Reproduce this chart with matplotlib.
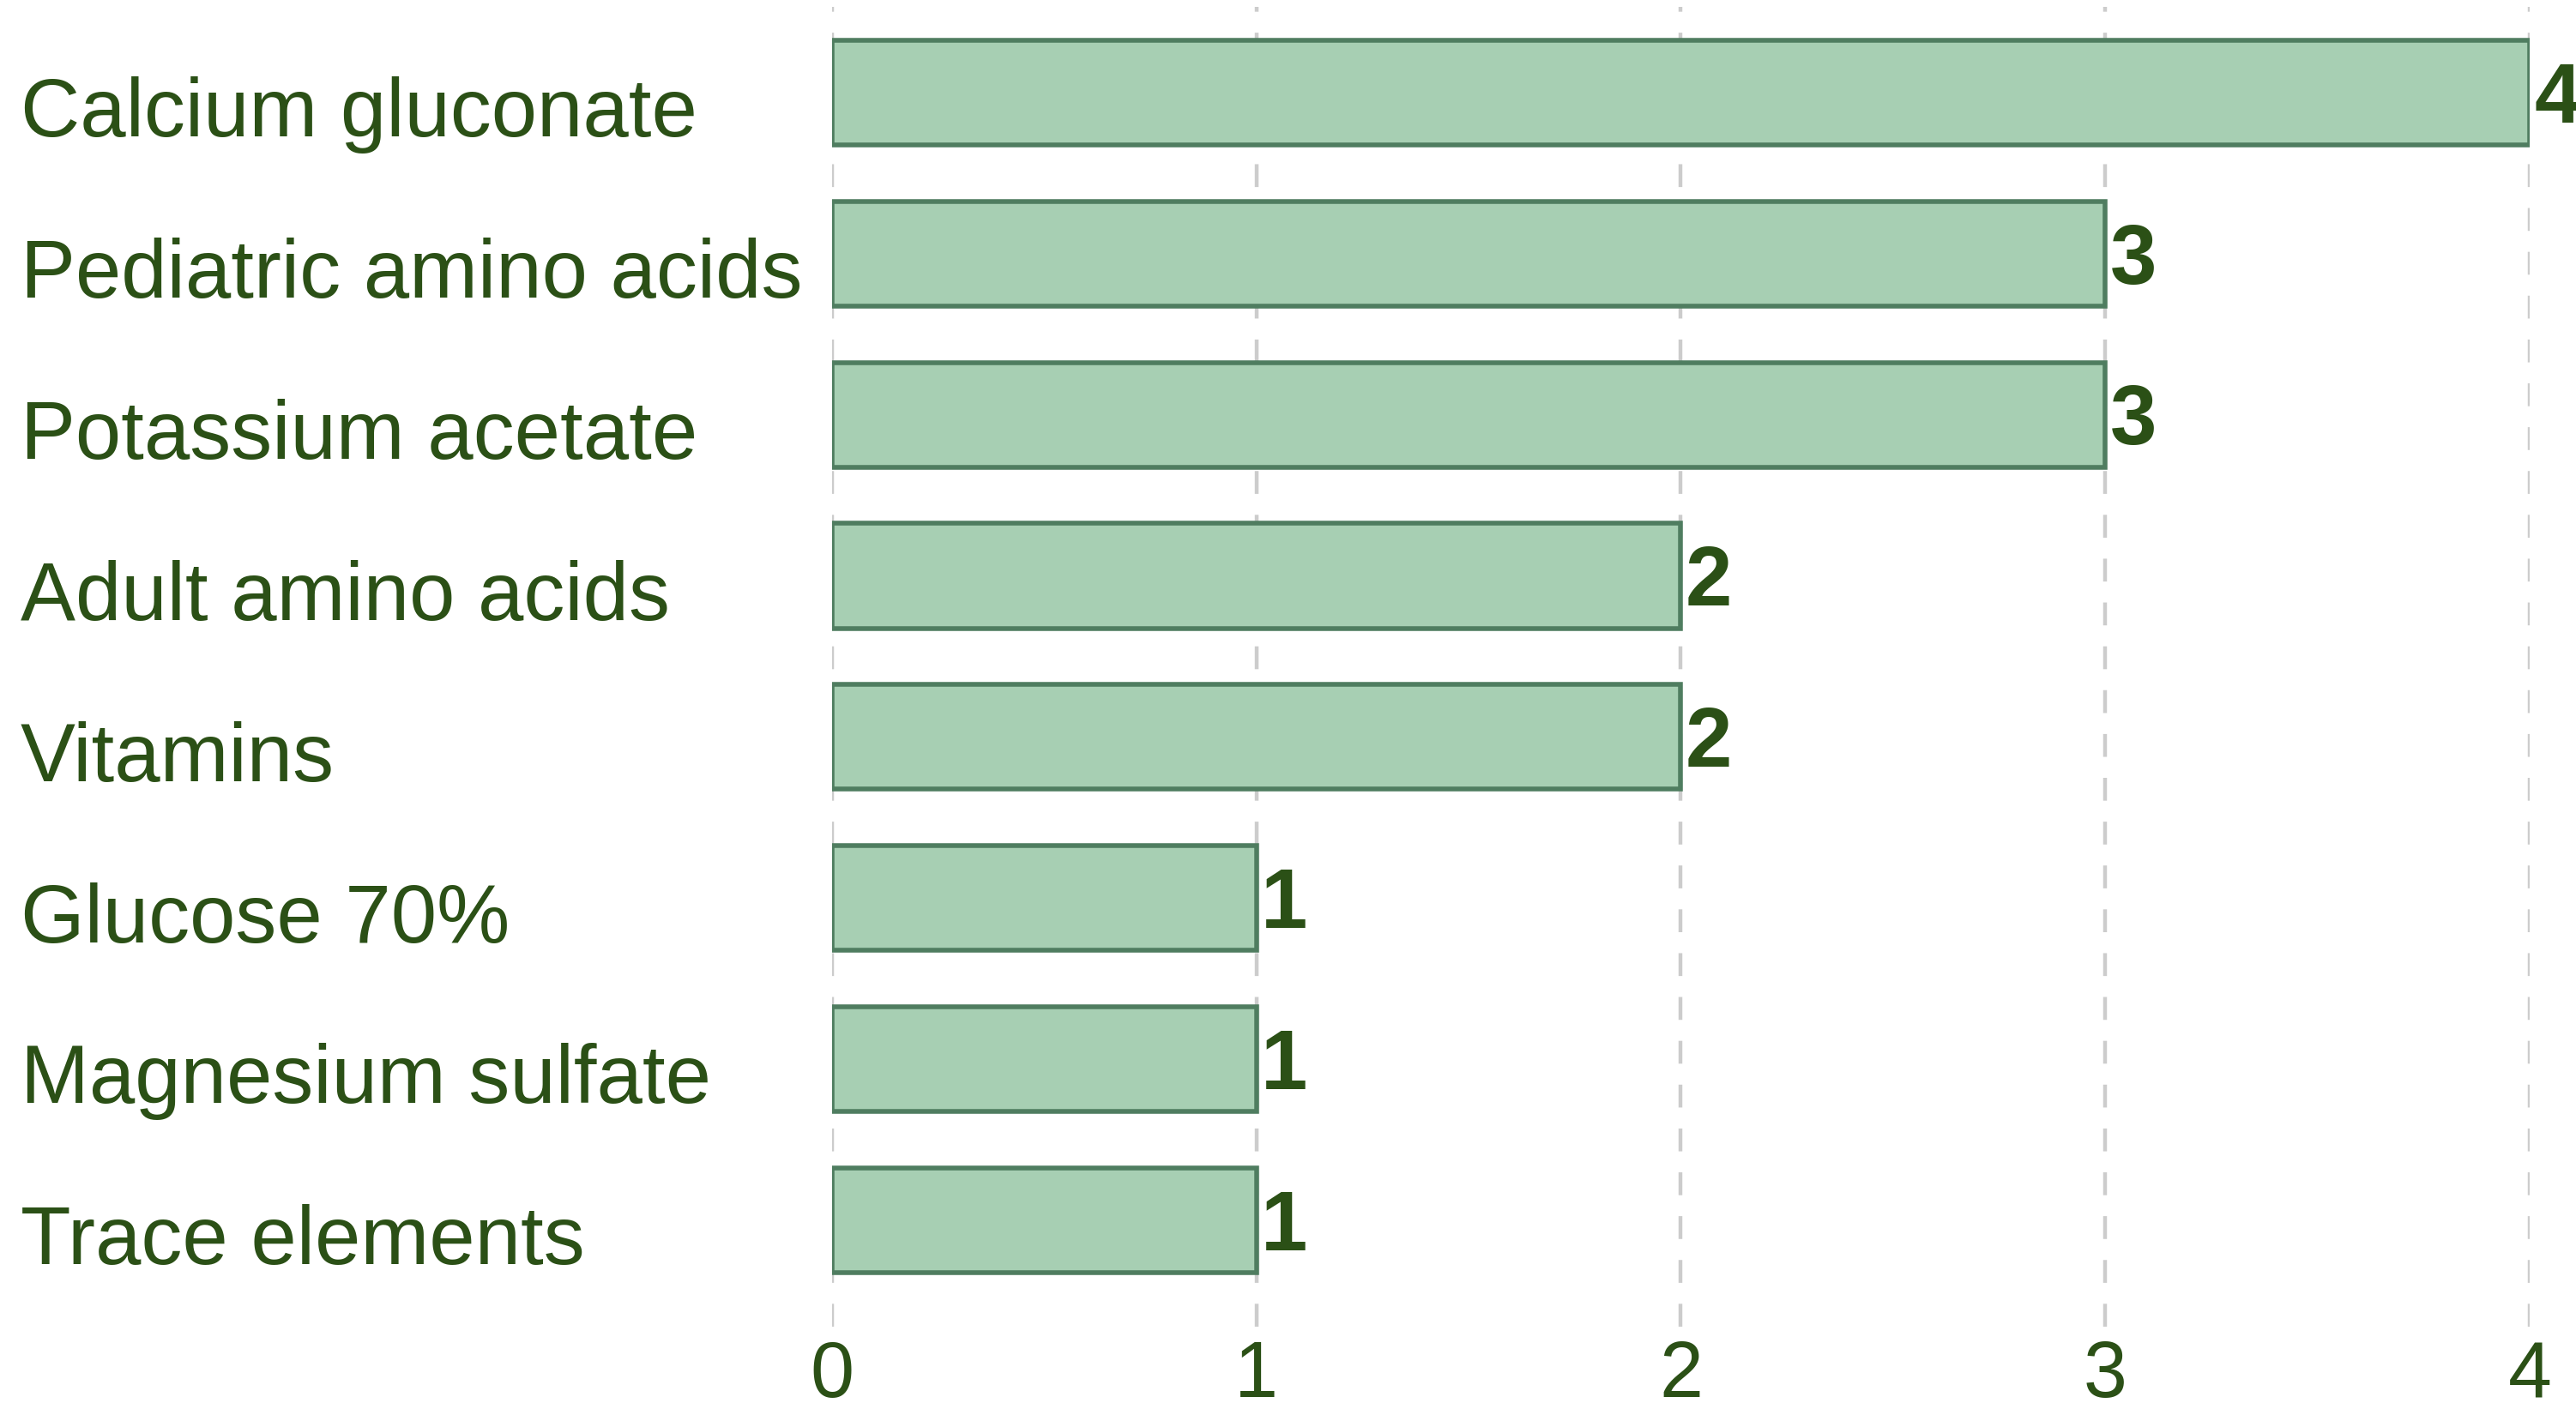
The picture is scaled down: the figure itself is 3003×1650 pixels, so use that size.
import numpy as np
import matplotlib.pyplot as plt

# data
categories = ["Calcium gluconate", "Pediatric amino acids", "Potassium acetate",
              "Adult amino acids", "Vitamins", "Glucose 70%",
              "Magnesium sulfate", "Trace elements"]
counts = [4, 3, 3, 2, 2, 1, 1, 1]
x_ticks = [0, 1, 2, 3, 4]

text_color = "#2b5016"
bar_color = "#a7cfb3"
edge_color = "#4f7d60"
grid_color = "#cccccc"

plt.rcParams["font.family"] = ["Liberation Sans", "DejaVu Sans"]

fig = plt.figure(figsize=(30.03, 16.5), dpi=100)
ax = fig.add_axes([0.3230, 0.0624, 0.6590, 0.9328])

positions = np.arange(len(categories))
ax.barh(positions, counts, height=0.65, color=bar_color,
        edgecolor=edge_color, linewidth=4, zorder=3)

ax.set_xlim(0, 4)
ax.set_ylim(len(categories) - 0.339, -0.533)

# dashed vertical grid behind the bars
ax.set_axisbelow(True)
ax.xaxis.grid(True, color=grid_color, linewidth=3.2, linestyle=(0, (6, 5.5)))
ax.yaxis.grid(False)

ax.set_xticks(x_ticks)
ax.set_xticklabels([str(t) for t in x_ticks])
ax.tick_params(axis="x", length=0, pad=11, labelsize=66, labelcolor=text_color)
ax.set_yticks([])
for spine in ax.spines.values():
    spine.set_visible(False)

# category names, left aligned at the figure edge
for pos, name in zip(positions, categories):
    ax.annotate(name, xy=(24, pos), xycoords=("figure pixels", "data"),
                xytext=(0, -37), textcoords="offset points",
                ha="left", va="baseline", fontsize=69, color=text_color)

# value labels at bar ends
for pos, val in zip(positions, counts):
    ax.annotate(str(val), xy=(val, pos), xytext=(4, -25), textcoords="offset points",
                ha="left", va="baseline", fontsize=70.5, fontweight="bold",
                color=text_color, annotation_clip=False)

fig.savefig("out.png", dpi=100)
